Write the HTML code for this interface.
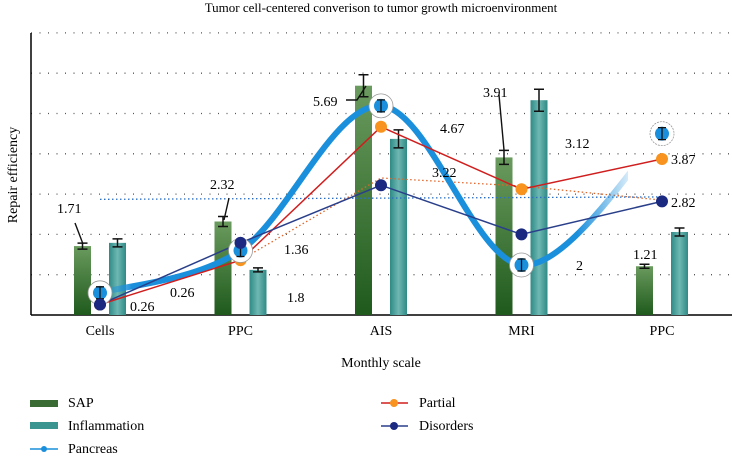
<!DOCTYPE html>
<html><head><meta charset="utf-8"><style>
body{margin:0;background:#fff;width:732px;height:453px;overflow:hidden}
svg{font-family:"Liberation Serif",serif}
</style></head><body>
<svg id="chart" width="732" height="453" viewBox="0 0 732 453" xmlns="http://www.w3.org/2000/svg">
<defs>
<linearGradient id="gSap" x1="0" y1="0" x2="0" y2="1"><stop offset="0" stop-color="#6a9a5e"/><stop offset="1" stop-color="#1f5a1c"/></linearGradient>
<linearGradient id="gInf" x1="0" y1="0" x2="1" y2="0"><stop offset="0" stop-color="#2e8a86"/><stop offset="0.5" stop-color="#6fb8b3"/><stop offset="1" stop-color="#2e8a86"/></linearGradient>
<linearGradient id="gPan" x1="100" y1="0" x2="630" y2="0" gradientUnits="userSpaceOnUse"><stop offset="0" stop-color="#1a8fdc" stop-opacity="0"/><stop offset="0.06" stop-color="#1a8fdc"/><stop offset="0.9" stop-color="#1a8fdc"/><stop offset="1" stop-color="#1a8fdc" stop-opacity="0.15"/></linearGradient>
<clipPath id="panClip"><rect x="0" y="0" width="628" height="453"/></clipPath>
</defs>
<text x="381" y="12" text-anchor="middle" font-size="13">Tumor cell-centered converison to tumor growth microenvironment</text>
<g id="grid"></g>
<line x1="31" y1="33" x2="31" y2="315" stroke="#000" stroke-width="1.5"/>
<line x1="31" y1="315" x2="732" y2="315" stroke="#000" stroke-width="1.5"/>
<g id="bars"></g>
<g id="lines"></g>
<g id="labels" font-size="14"></g>
<text transform="translate(17,175) rotate(-90)" text-anchor="middle" font-size="14">Repair efficiency</text>
<text x="381" y="367" text-anchor="middle" font-size="14">Monthly scale</text>
<g font-size="14">
<rect x="30" y="400" width="28" height="7" fill="#3b6b35"/>
<text x="68" y="407">SAP</text>
<rect x="30" y="422" width="28" height="7" fill="#3a9590"/>
<text x="68" y="430">Inflammation</text>
<line x1="30" y1="449" x2="58" y2="449" stroke="#1a8fdc" stroke-width="1.5"/><circle cx="44" cy="449" r="3" fill="#1a8fdc"/>
<text x="68" y="453">Pancreas</text>
<line x1="381" y1="403" x2="408" y2="403" stroke="#d01e1e" stroke-width="1.5"/><circle cx="394" cy="403" r="4" fill="#f7931e"/>
<text x="419" y="407">Partial</text>
<line x1="381" y1="426" x2="408" y2="426" stroke="#2a3f8a" stroke-width="1.5"/><circle cx="394" cy="426" r="4" fill="#1b2a80"/>
<text x="419" y="430">Disorders</text>
</g>
</svg>
<script>
const categories=["Cells","PPC","AIS","MRI","PPC"];
const sapValues=[1.71,2.32,5.69,3.91,1.21];
const inflammationValues=[1.79,1.12,4.37,5.33,2.06];
const pancreasValues=[0.55,1.6,5.19,1.24,4.5];
const partialValues=[0.26,1.36,4.67,3.12,3.87];
const disordersValues=[0.26,1.79,3.22,2.0,2.82];
const trendValues=[null,1.36,3.4,3.2,2.85];
const sapLabels=["1.71","2.32","5.69","3.91","1.21"];
const yTicks=[0,1,2,3,4,5,6,7];

const NS="http://www.w3.org/2000/svg";
const x=i=>100+i*140.5;
const y=v=>315-v*40.3;
function mk(tag,attrs,parent){const e=document.createElementNS(NS,tag);for(const k in attrs)e.setAttribute(k,attrs[k]);parent.appendChild(e);return e;}
const grid=document.getElementById('grid'),bars=document.getElementById('bars'),lines=document.getElementById('lines'),labels=document.getElementById('labels'),svg=document.getElementById('chart');

yTicks.forEach(t=>{if(t===0)return;
const g=mk('line',{x1:31,x2:732,y1:y(t),y2:y(t),stroke:'#555','stroke-width':1.3,'stroke-dasharray':'1 7.5'},grid);

});

categories.forEach((c,i)=>{
const t=mk('text',{x:x(i),y:335,'text-anchor':'middle','font-size':14},svg);t.textContent=c;


});

function errbar(cx,v,h){const p=mk('path',{d:`M${cx-5},${y(v)-h}H${cx+5}M${cx},${y(v)-h}V${y(v)+h}M${cx-5},${y(v)+h}H${cx+5}`,stroke:'#111','stroke-width':1.5,fill:'none'},bars);

}

sapValues.forEach((v,i)=>{
const r=mk('rect',{x:x(i)-26,y:y(v),width:17,height:315-y(v),fill:'url(#gSap)'},bars);


errbar(x(i)-17.5,v,[3,5,11,7,2][i]);
});
inflammationValues.forEach((v,i)=>{
const r=mk('rect',{x:x(i)+9,y:y(v),width:17,height:315-y(v),fill:'url(#gInf)'},bars);


errbar(x(i)+17.5,v,[4,2,9,11,4][i]);
});

const bd=mk('line',{x1:x(0),y1:y(2.87),x2:x(4),y2:y(2.93),stroke:'#2a6fc0','stroke-width':1.3,'stroke-dasharray':'1.5 2.5'},lines);


let td='';trendValues.forEach((v,i)=>{if(v===null)return;td+=(td?'L':'M')+x(i)+','+y(v);});
const od=mk('path',{d:td,stroke:'#e0662a','stroke-width':1.3,'stroke-dasharray':'1.5 2.5',fill:'none'},lines);



const pts=pancreasValues.map((v,i)=>[x(i),y(v)]);
let d='M'+pts[0][0]+','+pts[0][1];
for(let i=0;i<pts.length-1;i++){const p0=pts[Math.max(0,i-1)],p1=pts[i],p2=pts[i+1],p3=pts[Math.min(pts.length-1,i+2)];
const c1=[p1[0]+(p2[0]-p0[0])/6,p1[1]+(p2[1]-p0[1])/6],c2=[p2[0]-(p3[0]-p1[0])/6,p2[1]-(p3[1]-p1[1])/6];
d+=`C${c1[0]},${c1[1]} ${c2[0]},${c2[1]} ${p2[0]},${p2[1]}`;}
const pan=mk('path',{d:d,stroke:'url(#gPan)','stroke-width':6,fill:'none','clip-path':'url(#panClip)','stroke-linecap':'round'},lines);



function series(vals,stroke,fill,name){
let dd='';vals.forEach((v,i)=>{dd+=(i?'L':'M')+x(i)+','+y(v);});
const l=mk('path',{d:dd,stroke:stroke,'stroke-width':1.5,fill:'none'},lines);


vals.forEach((v,i)=>{const c=mk('circle',{cx:x(i),cy:y(v),r:6,fill:fill},lines);

});
}
series(partialValues,'#d01e1e','#f7931e','partial');
series(disordersValues,'#2a3f8a','#1b2a80','disorders');

pancreasValues.forEach((v,i)=>{
const o=mk('circle',{cx:x(i),cy:y(v),r:12,fill:'#fff',stroke:'#999','stroke-width':0.8,'stroke-dasharray':i===4?'2 1':''},lines);


const c=mk('circle',{cx:x(i),cy:y(v),r:7,fill:'#1a8fdc'},lines);


const e=mk('path',{d:`M${x(i)-4},${y(v)-6}H${x(i)+4}M${x(i)},${y(v)-6}V${y(v)+6}M${x(i)-4},${y(v)+6}H${x(i)+4}`,stroke:'#111','stroke-width':1.3},lines);


});
const cc=mk('circle',{cx:x(0),cy:y(disordersValues[0]),r:6,fill:'#1b2a80'},lines);


const cp=mk('circle',{cx:x(1),cy:y(disordersValues[1]),r:6,fill:'#1b2a80'},lines);



const sapLab=[[57,213],[210,189],[313,106],[483,97],[633,259]];
sapLab.forEach((p,i)=>{
const t=mk('text',{x:p[0],y:p[1]},labels);t.textContent=sapLabels[i];


});
const leaders=[[75,223,83,244],[229,198,224,220],[346,100,357,100,366,86],[499,95,504,150]];
leaders.forEach(l=>{let dd='M'+l[0]+','+l[1];for(let k=2;k<l.length;k+=2)dd+='L'+l[k]+','+l[k+1];
const p=mk('path',{d:dd,stroke:'#111','stroke-width':1.4,fill:'none'},labels);

});

const others=[["0.26",130,311],["0.26",170,297],["1.8",287,302],["1.36",284,254],["4.67",440,133],["3.22",432,177],["3.12",565,148],["2",576,270],["3.87",671,164],["2.82",671,207]];
others.forEach(o=>{const t=mk('text',{x:o[1],y:o[2]},labels);t.textContent=o[0];

});
</script>
</body></html>
